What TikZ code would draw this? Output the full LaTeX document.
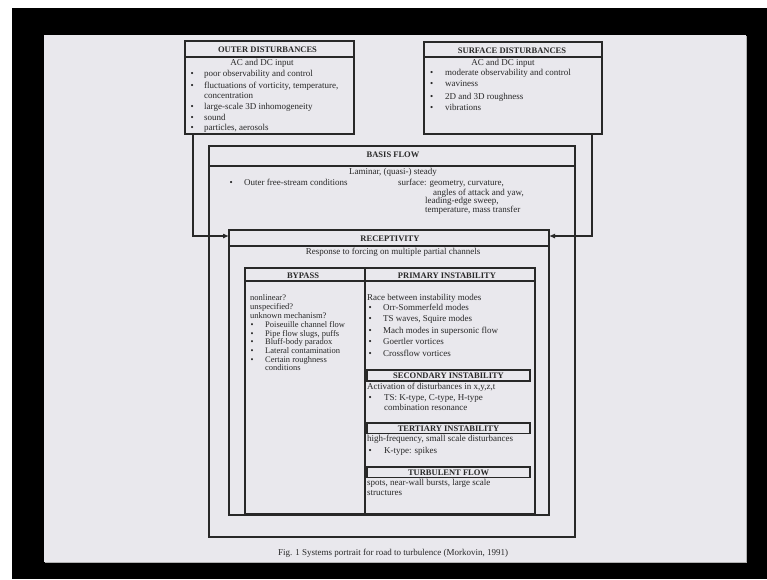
\documentclass[tikz,border=0pt]{standalone}
\usepackage{fontspec}
\setmainfont{Liberation Serif}
\usetikzlibrary{arrows.meta,calc}
\definecolor{slide}{RGB}{233,232,237}
\definecolor{ink}{RGB}{40,40,40}
\tikzset{
 frame/.style={draw=ink, line width=1.1pt, inner sep=0pt, outer sep=0pt, anchor=north west},
 hline/.style={draw=ink, line width=1.3pt},
 hdr/.style={inner sep=0pt, text=ink, font=\bfseries\fontsize{8.5}{10}\selectfont, text height=6pt, text depth=0pt},
 ln/.style={inner sep=0pt, anchor=west, text=ink, font=\fontsize{9}{10}\selectfont, text height=6.3pt, text depth=1.9pt},
 lnc/.style={ln, anchor=center},
 sm/.style={font=\fontsize{8.5}{10}\selectfont},
 arr/.style={draw=ink, line width=1.1pt, -{Latex[length=6pt,width=5pt]}},
}
\newcommand\myitem[6][]{\node[ln,#1] (#2b) at (#3,#5) {\textbullet}; \node[ln,#1] (#2) at (#4,#5) {#6};}
\begin{document}
\begin{tikzpicture}[x=1pt,y=-1pt]
\useasboundingbox (0,0) rectangle (767,579);
\fill[white] (0,0) rectangle (767,579);
\fill[black] (12,8) rectangle (767,579);
\fill[slide] (44,35) rectangle (746,562);
\draw[gray!60, line width=1pt] (746,36) -- (746,562) -- (45,562);

% OUTER DISTURBANCES
\node[frame, minimum width=169pt, minimum height=93pt] (outer) at (185,41) {};
\draw[hline] ([yshift=-16pt]outer.north west) -- ([yshift=-16pt]outer.north east);
\node[hdr] (outerh) at (267.5,49) {OUTER DISTURBANCES};
\node[lnc] (outerac) at (262,63) {AC and DC input};
\myitem{o1}{190.4}{204}{74.7}{poor observability and control}
\myitem{o2}{190.4}{204}{86}{fluctuations of vorticity, temperature,}
\node[ln] (o2c) at (204,96) {concentration};
\myitem{o3}{190.4}{204}{107.5}{large-scale 3D inhomogeneity}
\myitem{o4}{190.4}{204}{118}{sound}
\myitem{o5}{190.4}{204}{128}{particles, aerosols}

% SURFACE DISTURBANCES
\node[frame, minimum width=178pt, minimum height=92pt] (surf) at (424,42) {};
\draw[hline] ([yshift=-15pt]surf.north west) -- ([yshift=-15pt]surf.north east);
\node[hdr] (surfh) at (512,50) {SURFACE DISTURBANCES};
\node[lnc] (surfac) at (503,63) {AC and DC input};
\myitem{s1}{430}{445}{73}{moderate observability and control}
\myitem{s2}{430}{445}{84.7}{waviness}
\myitem{s3}{430}{445}{97.3}{2D and 3D roughness}
\myitem{s4}{430}{445}{108.7}{vibrations}

% BASIS FLOW
\node[frame, minimum width=366pt, minimum height=391pt] (basis) at (209,146) {};
\draw[hline] ([yshift=-20pt]basis.north west) -- ([yshift=-20pt]basis.north east);
\node[hdr] (basish) at (393,154) {BASIS FLOW};
\node[lnc] (lam) at (393,172) {Laminar, (quasi-) steady};
\myitem{b1}{229.4}{244}{183}{Outer free-stream conditions}
\node[ln] (b2) at (398,183) {surface: geometry, curvature,};
\node[ln] (b3) at (433,193) {angles of attack and yaw,};
\node[ln] (b4) at (425,201.5) {leading-edge sweep,};
\node[ln] (b5) at (425,210) {temperature, mass transfer};

% RECEPTIVITY
\node[frame, minimum width=320pt, minimum height=285pt] (recep) at (229,230) {};
\draw[hline] ([yshift=-16pt]recep.north west) -- ([yshift=-16pt]recep.north east);
\node[hdr] (receph) at (390,238) {RECEPTIVITY};
\node[lnc] (resp) at (393,252) {Response to forcing on multiple partial channels};

% inner box: BYPASS / PRIMARY INSTABILITY
\node[frame, minimum width=290pt, minimum height=246pt] (inner) at (245,268) {};
\draw[draw=ink, line width=1.1pt] ($(inner.north west)+(120,0)$) -- ($(inner.south west)+(120,0)$);
\draw[hline] ([yshift=-13pt]inner.north west) -- ([yshift=-13pt]inner.north east);
\node[hdr] (bypassh) at (303,275) {BYPASS};
\node[hdr] (primh) at (447,275) {PRIMARY INSTABILITY};

\node[ln,sm] (y1) at (250,298) {nonlinear?};
\node[ln,sm] (y2) at (250,307) {unspecified?};
\node[ln,sm] (y3) at (250,316) {unknown mechanism?};
\myitem[sm]{y4}{250.5}{265}{325}{Poiseuille channel flow}
\myitem[sm]{y5}{250.5}{265}{334}{Pipe flow slugs, puffs}
\myitem[sm]{y6}{250.5}{265}{342.5}{Bluff-body paradox}
\myitem[sm]{y7}{250.5}{265}{351}{Lateral contamination}
\myitem[sm]{y8}{250.5}{265}{360}{Certain roughness}
\node[ln,sm] (y9) at (265,368.5) {conditions};

\node[ln] (p0) at (367,298) {Race between instability modes};
\myitem{p1}{368.5}{383}{308}{Orr-Sommerfeld modes}
\myitem{p2}{368.5}{383}{319}{TS waves, Squire modes}
\myitem{p3}{368.5}{383}{331}{Mach modes in supersonic flow}
\myitem{p4}{368.5}{383}{342}{Goertler vortices}
\myitem{p5}{368.5}{383}{354}{Crossflow vortices}

% SECONDARY
\node[frame, minimum width=163pt, minimum height=11pt] (sec) at (367,370) {};
\node[hdr] (sech) at (448.5,375.5) {SECONDARY INSTABILITY};
\node[ln] (q0) at (367,387) {Activation of disturbances in x,y,z,t};
\myitem{q1}{368.5}{384}{398}{TS: K-type, C-type, H-type}
\node[ln] (q2) at (384,408) {combination resonance};

% TERTIARY
\node[frame, minimum width=163pt, minimum height=10.5pt] (ter) at (367,423) {};
\node[hdr] (terh) at (448.5,428.2) {TERTIARY INSTABILITY};
\node[ln] (t0) at (367,439) {high-frequency, small scale disturbances};
\myitem{t1}{368.5}{384}{451}{K-type: spikes}

% TURBULENT
\node[frame, minimum width=163pt, minimum height=10.5pt] (turb) at (367,467) {};
\node[hdr] (turbh) at (448.5,472.2) {TURBULENT FLOW};
\node[ln] (u0) at (367,483) {spots, near-wall bursts, large scale};
\node[ln] (u1) at (367,493) {structures};

% arrows
\draw[arr] ($(outer.south west)+(8,0)$) |- ($(recep.north west)+(0,6)$);
\draw[arr] ($(surf.south east)+(-10,0)$) |- ($(recep.north east)+(0,6)$);

% caption
\node[lnc] (cap) at (393,553) {Fig. 1 Systems portrait for road to turbulence (Morkovin, 1991)};
\end{tikzpicture}
\end{document}
